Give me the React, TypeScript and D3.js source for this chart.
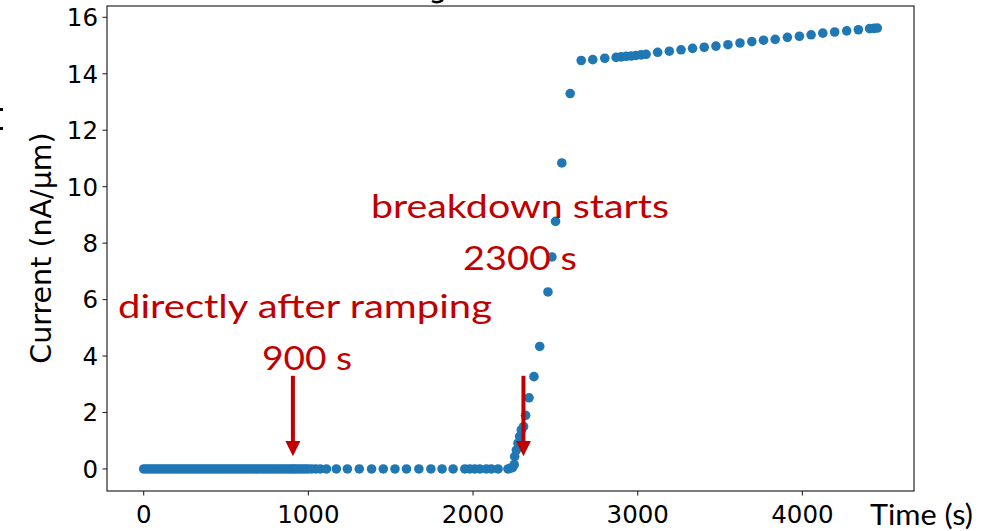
import React from "react";
import * as d3 from "d3";

// ---- data (time in s, current in nA/µm) ----
const baseline: [number, number][] = [
  [0, 0], [15, 0], [30, 0], [45, 0], [60, 0], [75, 0], [90, 0], [105, 0], [120, 0], [135, 0],
  [150, 0], [165, 0], [180, 0], [195, 0], [210, 0], [225, 0], [240, 0], [255, 0], [270, 0], [285, 0],
  [300, 0], [315, 0], [330, 0], [345, 0], [360, 0], [375, 0], [390, 0], [405, 0], [420, 0], [435, 0],
  [450, 0], [465, 0], [480, 0], [495, 0], [510, 0], [525, 0], [540, 0], [555, 0], [570, 0], [585, 0],
  [600, 0], [615, 0], [630, 0], [645, 0], [660, 0], [675, 0], [690, 0], [705, 0], [720, 0], [735, 0],
  [750, 0], [765, 0], [780, 0], [795, 0], [810, 0], [825, 0], [840, 0], [855, 0], [870, 0], [885, 0],
  [900, 0], [912, 0], [925, 0], [940, 0], [955, 0], [970, 0], [985, 0], [1000, 0], [1020, 0],
  [1045, 0], [1072, 0], [1110, 0], [1170, 0], [1237, 0], [1309, 0], [1384, 0], [1455, 0],
  [1526, 0], [1596, 0], [1671, 0], [1744, 0], [1812, 0], [1879, 0], [1950, 0], [1980, 0],
  [2010, 0], [2041, 0], [2081, 0], [2111, 0], [2152, 0], [2212, 0], [2225, 0.02], [2240, 0.05],
];

const rise: [number, number][] = [
  [2250, 0.15], [2253, 0.44], [2263, 0.67], [2273, 0.91], [2283, 1.15], [2293, 1.38],
  [2307, 1.5], [2319, 1.9], [2340, 2.52], [2370, 3.27], [2405, 4.34], [2455, 6.27],
  [2479, 7.51], [2501, 8.77], [2539, 10.84], [2590, 13.3],
];

const plateau: [number, number][] = [
  [2657, 14.47], [2727, 14.5], [2800, 14.55], [2869, 14.58], [2899, 14.6], [2930, 14.62],
  [2960, 14.63], [2990, 14.65], [3020, 14.67], [3051, 14.69], [3121, 14.76], [3192, 14.8],
  [3263, 14.85], [3333, 14.9], [3404, 14.94], [3475, 14.98], [3548, 15.03], [3621, 15.09],
  [3693, 15.14], [3764, 15.19], [3835, 15.22], [3909, 15.29], [3982, 15.33], [4053, 15.38],
  [4124, 15.44], [4196, 15.48], [4269, 15.52], [4340, 15.56], [4408, 15.6], [4435, 15.61],
  [4455, 15.62],
];

const xTicks = [0, 1000, 2000, 3000, 4000];
const yTicks = [0, 2, 4, 6, 8, 10, 12, 14, 16];

const annotations = [
  { lines: ["directly after ramping", "900 s"], time: 900 },
  { lines: ["breakdown starts", "2300 s"], time: 2300 },
];

const W = 1002;
const H = 531;
const plot = { left: 107, right: 914, top: 6, bottom: 491 };
const BLUE = "#1f77b4";
const RED = "#C00000";

export default function App() {
  const points = [...baseline, ...rise, ...plateau];
  const [x0, x1] = d3.extent(points, (d) => d[0]) as [number, number];
  const [y0, y1] = d3.extent(points, (d) => d[1]) as [number, number];
  const xm = (x1 - x0) * 0.05;
  const ym = (y1 - y0) * 0.05;
  const x = d3.scaleLinear().domain([x0 - xm, x1 + xm]).range([plot.left, plot.right]);
  const y = d3.scaleLinear().domain([y0 - ym, y1 + ym]).range([plot.bottom, plot.top]);

  const tickFont = "DejaVu Sans, sans-serif";
  const annFont = "Lato, 'Open Sans', sans-serif";

  // arrow geometry in data units
  const arrowTop = y(3.3);
  const headBase = y(0.99);
  const tip = y(0.45);

  const annText = [
    { t: "directly after ramping", cx: 305, base: 318, len: 374 },
    { t: "900 s", cx: 307, base: 370, len: 90 },
    { t: "breakdown starts", cx: 520, base: 218, len: 298 },
    { t: "2300 s", cx: 520, base: 270, len: 114 },
  ];

  return (
    <svg
      width={W}
      height={H}
      style={{ position: "absolute", left: 0, top: 0, background: "#fff" }}
    >
      <rect x={0} y={0} width={W} height={H} fill="#fff" />
      {/* cropped remnants at the picture edges */}
      <path d="M432,1 Q437,4 443,0" fill="none" stroke="#000" strokeWidth={2.4} />
      <rect x={0} y={108} width={3} height={3} fill="#000" />
      <rect x={0} y={127} width={3} height={3} fill="#000" />

      {/* data points */}
      <g fill={BLUE}>
        {points.map((d, i) => (
          <circle key={i} cx={x(d[0])} cy={y(d[1])} r={4.8} />
        ))}
      </g>

      {/* annotations text */}
      {annText.map((a, i) => (
        <text
          key={i}
          x={a.cx}
          y={a.base}
          textAnchor="middle"
          fontFamily={annFont}
          fontSize={33}
          fill={RED}
          textLength={a.len}
          lengthAdjust="spacingAndGlyphs"
        >
          {a.t}
        </text>
      ))}

      {/* arrows */}
      {annotations.map((a, i) => {
        const ax = x(a.time) + 1;
        return (
          <g key={i} fill={RED} stroke="none">
            <rect x={ax - 2} y={arrowTop} width={4} height={headBase - arrowTop} />
            <polygon points={`${ax - 7.5},${headBase} ${ax + 7.5},${headBase} ${ax},${tip}`} />
          </g>
        );
      })}

      {/* spines */}
      <rect
        x={plot.left}
        y={plot.top}
        width={plot.right - plot.left}
        height={plot.bottom - plot.top}
        fill="none"
        stroke="#262626"
        strokeWidth={1.2}
      />

      {/* x ticks */}
      {xTicks.map((t) => (
        <g key={t} transform={`translate(${x(t)},${plot.bottom})`}>
          <line y1={0} y2={4.5} stroke="#262626" strokeWidth={1.1} />
          <text y={32} textAnchor="middle" fontFamily={tickFont} fontSize={24.5} fill="#000">
            {t}
          </text>
        </g>
      ))}

      {/* y ticks */}
      {yTicks.map((t) => (
        <g key={t} transform={`translate(${plot.left},${y(t)})`}>
          <line x1={0} x2={-4.5} stroke="#262626" strokeWidth={1.1} />
          <text x={-9} dy="0.36em" textAnchor="end" fontFamily={tickFont} fontSize={24.5} fill="#000">
            {t}
          </text>
        </g>
      ))}

      {/* y label */}
      <text
        transform={`translate(51,${248}) rotate(-90)`}
        textAnchor="middle"
        fontFamily={tickFont}
        fontSize={28.5}
        fill="#000"
      >
        Current (nA/μm)
      </text>

      {/* x label */}
      <text
        x={870}
        y={525}
        fontFamily={annFont}
        fontSize={29}
        fill="#000"
        textLength={103}
        lengthAdjust="spacingAndGlyphs"
      >
        Time (s)
      </text>
    </svg>
  );
}
